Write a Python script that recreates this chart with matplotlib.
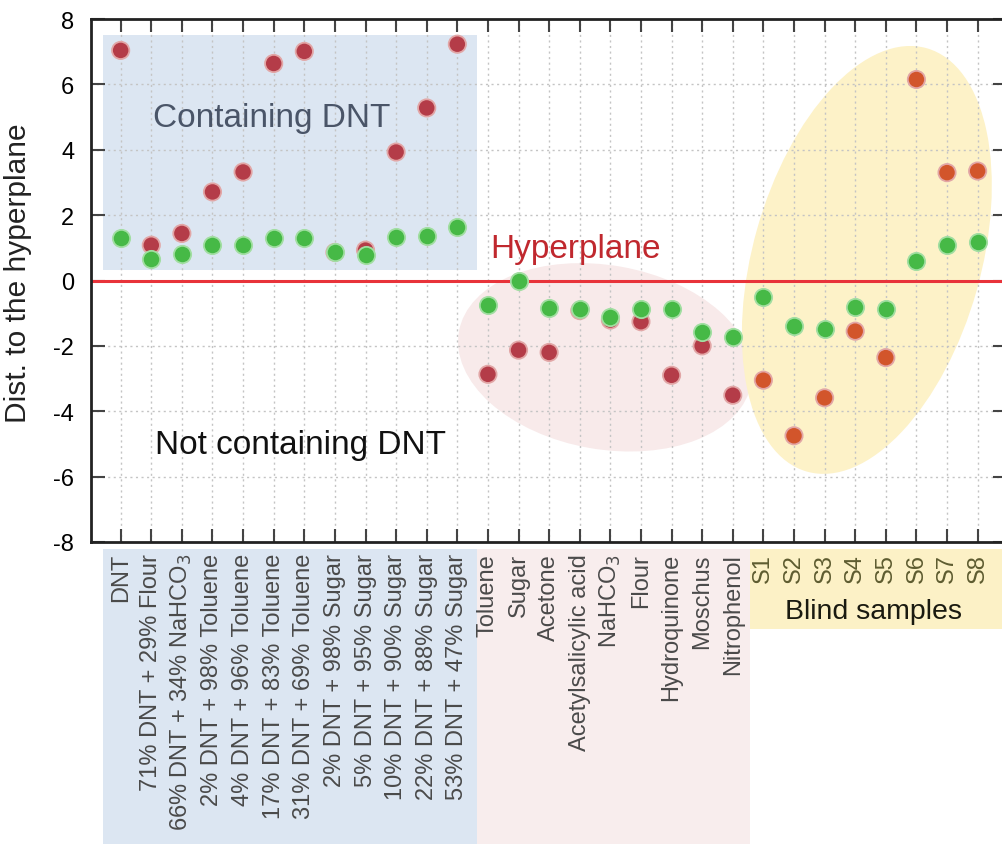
import matplotlib
matplotlib.use("Agg")
import matplotlib.pyplot as plt
from matplotlib.patches import Ellipse, Rectangle
from matplotlib.transforms import ScaledTranslation, blended_transform_factory

plt.rcParams["font.family"] = ["Liberation Sans", "DejaVu Sans"]
plt.rcParams["axes.unicode_minus"] = False

# sample names: 12 containing DNT, 9 without DNT, 8 blind samples
containing = [
    "DNT", "71% DNT + 29% Flour", "66% DNT + 34% NaHCO$_3$",
    "2% DNT + 98% Toluene", "4% DNT + 96% Toluene", "17% DNT + 83% Toluene",
    "31% DNT + 69% Toluene", "2% DNT + 98% Sugar", "5% DNT + 95% Sugar",
    "10% DNT + 90% Sugar", "22% DNT + 88% Sugar", "53% DNT + 47% Sugar",
]
not_containing = [
    "Toluene", "Sugar", "Acetone", "Acetylsalicylic acid", "NaHCO$_3$",
    "Flour", "Hydroquinone", "Moschus", "Nitrophenol",
]
blind = ["S1", "S2", "S3", "S4", "S5", "S6", "S7", "S8"]

# distance to hyperplane, two measurements per sample
red_dist = [7.04, 1.08, 1.44, 2.71, 3.32, 6.64, 7.01, 0.86, 0.93, 3.93, 5.28, 7.23,
            -2.87, -2.13, -2.20, -0.92, -1.21, -1.26, -2.90, -2.00, -3.51,
            -3.05, -4.75, -3.59, -1.55, -2.36, 6.15, 3.30, 3.35]
green_dist = [1.31, 0.67, 0.80, 1.10, 1.10, 1.31, 1.31, 0.86, 0.77, 1.34, 1.37, 1.64,
              -0.75, -0.02, -0.84, -0.86, -1.11, -0.86, -0.88, -1.57, -1.74,
              -0.50, -1.40, -1.47, -0.80, -0.86, 0.60, 1.08, 1.18]

labels = containing + not_containing + blind
x = list(range(len(labels)))
n1 = len(containing)
n2 = n1 + len(not_containing)

fig = plt.figure(figsize=(10.02, 8.45), dpi=100)
ax = fig.add_axes([0.0908, 0.3574, 0.9142, 0.6189])
ax.set_xlim(-0.97, 28.96)
ax.set_ylim(-8, 8)

# group boundaries in x
b0, b1, b2 = -0.58, n1 - 0.36, n2 - 0.44

# shaded groups inside the plot
ax.add_patch(Rectangle((b0, 0.31), b1 - b0, 7.21,
                       facecolor="#dce6f2", edgecolor="none", zorder=0.5))


def ellipse(cx, cy, w_in, h_in, angle, color):
    tr = fig.dpi_scale_trans + ScaledTranslation(cx, cy, ax.transData)
    e = Ellipse((0, 0), w_in, h_in, angle=angle, transform=tr,
                facecolor=color, edgecolor="none", zorder=0.5)
    e.set_clip_path(ax.patch)
    ax.add_patch(e)


ellipse(15.83, -2.35, 2.97, 1.84, -10, "#f8eaea")
ellipse(24.38, 0.63, 2.28, 4.40, -15.8, "#fdf2c8")

# label backgrounds below the axis
bt = blended_transform_factory(ax.transData, fig.transFigure)
for x0, x1, y0, y1, c in [(b0, b1, 0.0, 0.349, "#dce6f2"),
                          (b1, b2, 0.0, 0.349, "#f8eded"),
                          (b2, 30.0, 0.254, 0.349, "#fcf1c6")]:
    ax.add_patch(Rectangle((x0, y0), x1 - x0, y1 - y0, transform=bt,
                           facecolor=c, edgecolor="none", clip_on=False, zorder=0))

# grid
for xi in x:
    ax.axvline(xi, color="#c4c4c4", lw=1, ls=(0, (1.5, 2.5)), zorder=0.8)
for yi in range(-6, 8, 2):
    ax.axhline(yi, color="#c4c4c4", lw=1, ls=(0, (1.5, 2.5)), zorder=0.8)

ax.axhline(0, color="#e8333a", lw=2.2, zorder=2)

red_colors = ["#b43c48"] * n2 + ["#d2552b"] * len(blind)
ax.scatter(x, red_dist, s=155, c=red_colors, edgecolors="#e2a6a6",
           linewidths=1.3, zorder=3)
ax.scatter(x, green_dist, s=155, c="#46b946", edgecolors="#a2dea2",
           linewidths=1.3, zorder=4)

ax.text(4.94, 5.0, "Containing DNT", fontsize=24, color="#4a5568",
        ha="center", va="center", zorder=5)
ax.text(5.86, -5.02, "Not containing DNT", fontsize=24, color="#111111",
        ha="center", va="center", zorder=5)
ax.text(14.85, 0.98, "Hyperplane", fontsize=24, color="#c0282e",
        ha="center", va="center", zorder=5)
ax.text(24.6, 0.276, "Blind samples", fontsize=20.5, color="#1a1a10",
        ha="center", va="center", transform=bt, zorder=5)

ax.set_xticks(x)
ax.set_xticklabels(labels, rotation=90, fontsize=17, color="#4a4a4a")
for lab in ax.get_xticklabels()[n2:]:
    lab.set_color("#5e5c30")
ax.set_yticks(range(-8, 9, 2))
ax.tick_params(axis="x", direction="in", length=9.5, width=1.5, color="#444444",
               top=True, pad=8)
ax.tick_params(axis="y", direction="in", length=10, width=1.5, color="#444444",
               right=True, labelsize=17, pad=12)
for s in ax.spines.values():
    s.set_linewidth(2)
    s.set_color("#222222")

ax.set_ylabel("Dist. to the hyperplane", fontsize=21.5, color="#222222")
ax.yaxis.set_label_coords(-0.064, 0.515)

fig.savefig("out.png", dpi=100)
